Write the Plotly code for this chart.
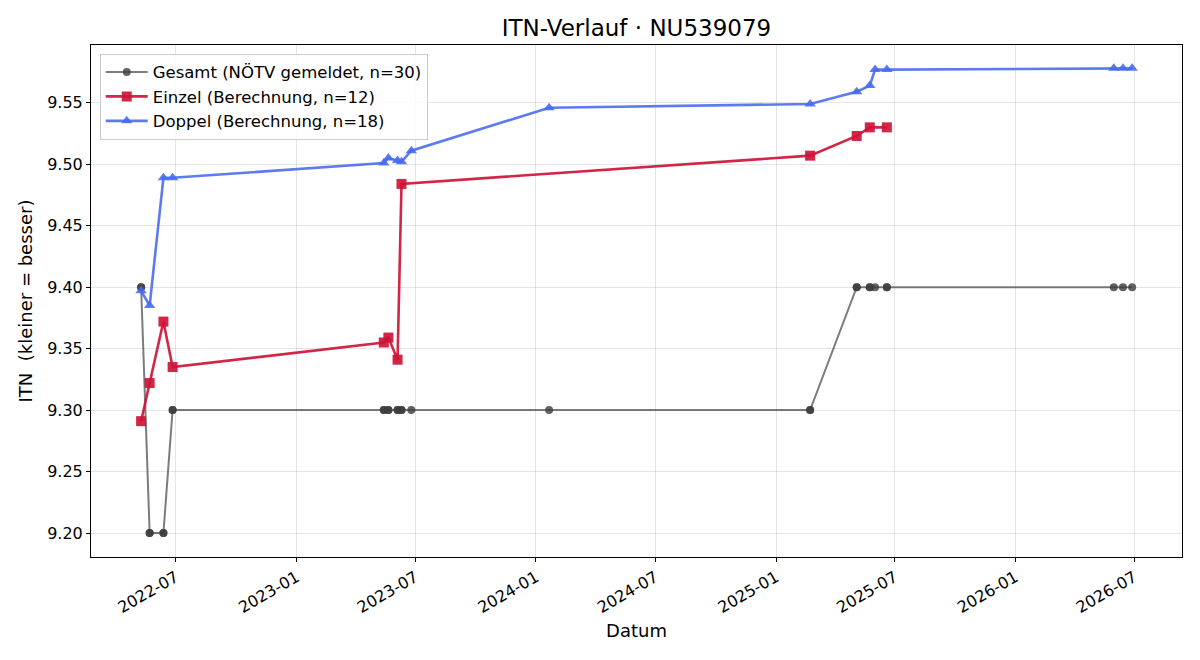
import plotly.graph_objects as go

# ---- data ----
einzel_dates = ["2022-05-09", "2022-05-22", "2022-06-12", "2022-06-26",
                "2023-05-14", "2023-05-21", "2023-06-04", "2023-06-10",
                "2025-02-22", "2025-05-04", "2025-05-24", "2025-06-19"]
einzel_vals = [9.291, 9.322, 9.372, 9.335,
               9.355, 9.359, 9.341, 9.484,
               9.507, 9.523, 9.530, 9.530]

doppel_dates = ["2022-05-09", "2022-05-22", "2022-06-12", "2022-06-26",
                "2023-05-14", "2023-05-21", "2023-06-04", "2023-06-10", "2023-06-25",
                "2024-01-21",
                "2025-02-22", "2025-05-04", "2025-05-24", "2025-06-01", "2025-06-19",
                "2026-05-31", "2026-06-14", "2026-06-28"]
doppel_vals = [9.397, 9.385, 9.489, 9.489,
               9.501, 9.505, 9.503, 9.502, 9.511,
               9.546,
               9.549, 9.559, 9.564, 9.577, 9.577,
               9.578, 9.578, 9.578]

gesamt_dates = ["2022-05-09", "2022-05-09", "2022-05-22", "2022-05-22",
                "2022-06-12", "2022-06-12", "2022-06-26", "2022-06-26",
                "2023-05-14", "2023-05-14", "2023-05-21", "2023-05-21",
                "2023-06-04", "2023-06-04", "2023-06-10", "2023-06-10",
                "2023-06-25", "2024-01-21", "2025-02-22", "2025-02-22",
                "2025-05-04", "2025-05-04", "2025-05-24", "2025-05-24",
                "2025-06-01", "2025-06-19", "2025-06-19",
                "2026-05-31", "2026-06-14", "2026-06-28"]
gesamt_vals = [9.40, 9.40, 9.20, 9.20,
               9.20, 9.20, 9.30, 9.30,
               9.30, 9.30, 9.30, 9.30,
               9.30, 9.30, 9.30, 9.30,
               9.30, 9.30, 9.30, 9.30,
               9.40, 9.40, 9.40, 9.40,
               9.40, 9.40, 9.40,
               9.40, 9.40, 9.40]

x_ticks = ["2022-07-01", "2023-01-01", "2023-07-01", "2024-01-01", "2024-07-01",
           "2025-01-01", "2025-07-01", "2026-01-01", "2026-07-01"]
x_tick_labels = ["2022-07", "2023-01", "2023-07", "2024-01", "2024-07",
                 "2025-01", "2025-07", "2026-01", "2026-07"]
y_ticks = [9.20, 9.25, 9.30, 9.35, 9.40, 9.45, 9.50, 9.55]

FONT = "DejaVu Sans"

fig = go.Figure()
fig.add_trace(go.Scatter(
    x=gesamt_dates, y=gesamt_vals, mode="lines+markers",
    name="Gesamt (NÖTV gemeldet, n=30)",
    line=dict(color="rgba(68,68,68,0.7)", width=2),
    marker=dict(symbol="circle", size=8, color="rgba(60,60,60,0.8)"),
))
fig.add_trace(go.Scatter(
    x=einzel_dates, y=einzel_vals, mode="lines+markers",
    name="Einzel (Berechnung, n=12)",
    line=dict(color="rgba(205,20,55,0.92)", width=2.6),
    marker=dict(symbol="square", size=10, color="rgba(205,20,55,0.92)"),
))
fig.add_trace(go.Scatter(
    x=doppel_dates, y=doppel_vals, mode="lines+markers",
    name="Doppel (Berechnung, n=18)",
    line=dict(color="rgba(70,105,240,0.88)", width=2.6),
    marker=dict(symbol="triangle-up", size=10, color="rgba(70,105,240,0.88)"),
))

fig.update_layout(
    width=1200, height=660,
    margin=dict(l=91, r=18, t=45, b=103),
    paper_bgcolor="white", plot_bgcolor="white",
    font=dict(family=FONT, size=16, color="black"),
    title=dict(text="ITN-Verlauf · NU539079", xref="paper", x=0.5, xanchor="center",
               y=1 - 28 / 660, yanchor="middle", font=dict(size=23, family=FONT)),
    legend=dict(x=0.008, y=0.983, xanchor="left", yanchor="top",
                bgcolor="rgba(255,255,255,0.85)", bordercolor="#cccccc", borderwidth=1,
                font=dict(size=16.5, family=FONT), tracegroupgap=0, itemwidth=42),
    showlegend=True,
)
fig.update_xaxes(
    type="date", range=["2022-02-21 14:00", "2026-09-12"],
    tickvals=x_ticks, ticktext=x_tick_labels, tickangle=-30,
    ticks="outside", ticklen=4, tickcolor="black",
    showline=True, linecolor="black", linewidth=1, mirror=True,
    showgrid=True, gridcolor="rgba(0,0,0,0.1)", gridwidth=1, zeroline=False,
    title=dict(text="Datum", font=dict(size=18, family=FONT), standoff=8),
    tickfont=dict(size=16, family=FONT),
)
fig.update_yaxes(
    range=[9.1805, 9.597], tickvals=y_ticks, tickformat=".2f",
    ticks="outside", ticklen=4, tickcolor="black",
    showline=True, linecolor="black", linewidth=1, mirror=True,
    showgrid=True, gridcolor="rgba(0,0,0,0.1)", gridwidth=1, zeroline=False,
    title=dict(text="ITN\u00a0 (kleiner = besser)", font=dict(size=18, family=FONT), standoff=9),
    tickfont=dict(size=16, family=FONT),
)

fig.write_html("out.html")
